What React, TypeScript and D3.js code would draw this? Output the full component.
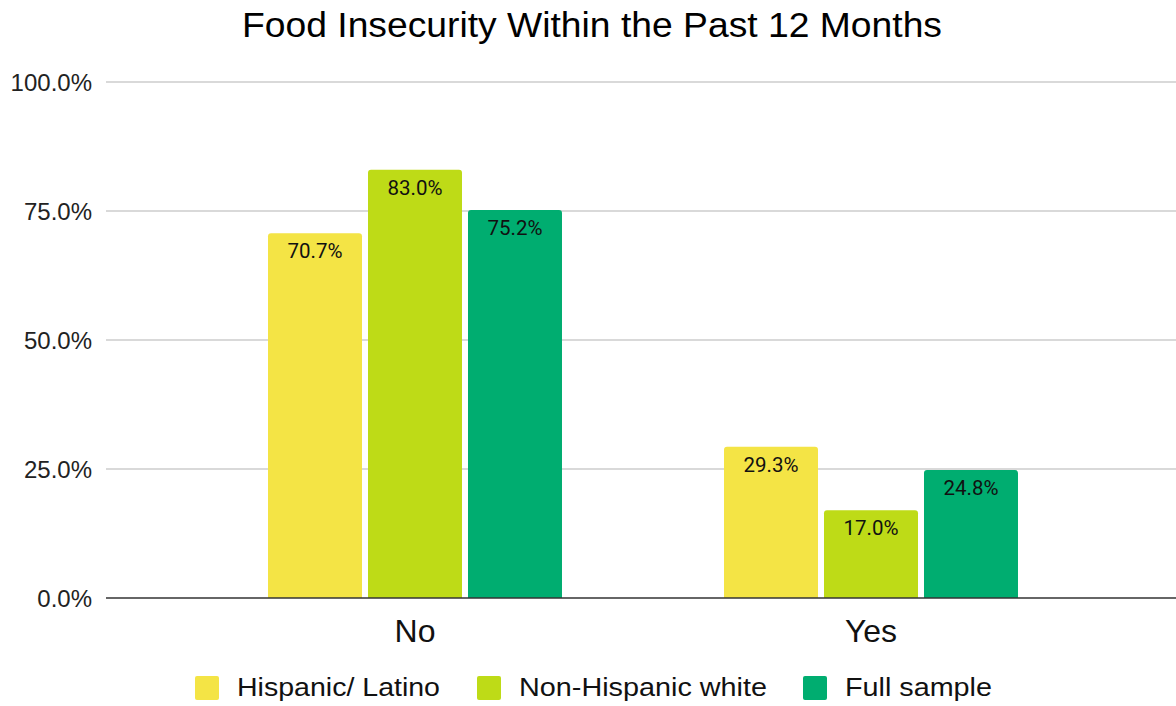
import React from "react";
import * as d3 from "d3";

const categories = ["No", "Yes"];
const seriesNames = ["Hispanic/ Latino", "Non-Hispanic white", "Full sample"];
const hispanicLatino = [70.7, 29.3];
const nonHispanicWhite = [83.0, 17.0];
const fullSample = [75.2, 24.8];
const yTicks = [0, 25, 50, 75, 100];
const colors = ["#f4e445", "#bedb17", "#00ad70"];
const title = "Food Insecurity Within the Past 12 Months";

const seriesValues = [hispanicLatino, nonHispanicWhite, fullSample];

function topRoundedRect(x: number, y: number, w: number, h: number, r: number) {
  const rr = Math.min(r, h, w / 2);
  return `M${x},${y + h} L${x},${y + rr} Q${x},${y} ${x + rr},${y} L${x + w - rr},${y} Q${x + w},${y} ${x + w},${y + rr} L${x + w},${y + h} Z`;
}

export default function App() {
  const W = 1176;
  const H = 706;
  const plotLeft = 106;
  const plotRight = 1176;
  const y = d3.scaleLinear().domain([0, 100]).range([598, 82]);
  const x0 = d3
    .scaleBand<string>()
    .domain(categories)
    .range([187, 1099])
    .paddingInner(0.3553)
    .paddingOuter(0.17765);
  const x1 = d3
    .scaleBand<string>()
    .domain(seriesNames)
    .range([0, x0.bandwidth()])
    .paddingInner(0.06)
    .paddingOuter(0);

  const legendX = [195, 477, 803];
  const legendTextLen = [203, 248, 147];

  return (
    <svg width={W} height={H} style={{ position: "absolute", left: 0, top: 0, background: "#fff" }}>
      <rect x={0} y={0} width={W} height={H} fill="#fff" />
      <text
        x={242}
        y={37}
        textLength={700}
        lengthAdjust="spacingAndGlyphs"
        fontFamily="Liberation Sans, Arial, sans-serif"
        fontSize={35}
        fill="#000"
      >
        {title}
      </text>
      {yTicks.map((t) => (
        <g key={t}>
          {t !== 0 && (
            <line x1={plotLeft} x2={plotRight} y1={y(t)} y2={y(t)} stroke="#cccccc" strokeWidth={1.5} />
          )}
          <text
            x={92}
            y={y(t) + 9}
            textAnchor="end"
            fontFamily="Liberation Sans, Arial, sans-serif"
            fontSize={24}
            fill="#222"
          >
            {t.toFixed(1) + "%"}
          </text>
        </g>
      ))}
      {categories.map((c, ci) => (
        <g key={c} transform={`translate(${x0(c)},0)`}>
          {seriesNames.map((s, si) => {
            const v = seriesValues[si][ci];
            const bx = x1(s) as number;
            const bw = x1.bandwidth();
            const top = y(v);
            return (
              <g key={s}>
                <path d={topRoundedRect(bx, top, bw, y(0) - top, 3)} fill={colors[si]} />
                <text
                  x={bx + bw / 2}
                  y={top + 25}
                  textAnchor="middle"
                  fontFamily="Roboto, sans-serif"
                  fontSize={20.5}
                  fill="#111"
                >
                  {v.toFixed(1) + "%"}
                </text>
              </g>
            );
          })}
          <text
            x={x0.bandwidth() / 2}
            y={642}
            textAnchor="middle"
            fontFamily="Liberation Sans, Arial, sans-serif"
            fontSize={32}
            fill="#111"
          >
            {c}
          </text>
        </g>
      ))}
      <line x1={plotLeft} x2={plotRight} y1={y(0)} y2={y(0)} stroke="#333" strokeWidth={1.5} />
      {seriesNames.map((s, i) => (
        <g key={s}>
          <rect x={legendX[i]} y={676} width={24} height={24} rx={2} fill={colors[i]} />
          <text
            x={legendX[i] + 42}
            y={696}
            textLength={legendTextLen[i]}
            lengthAdjust="spacingAndGlyphs"
            fontFamily="Liberation Sans, Arial, sans-serif"
            fontSize={25}
            fill="#111"
          >
            {s}
          </text>
        </g>
      ))}
    </svg>
  );
}
